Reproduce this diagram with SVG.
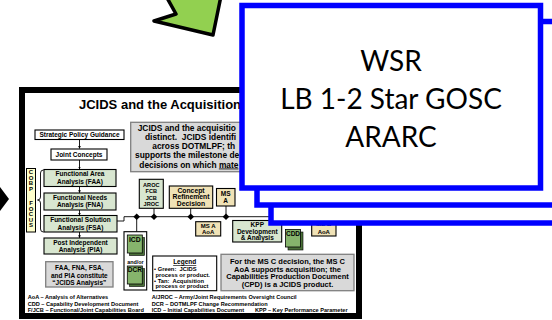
<svg xmlns="http://www.w3.org/2000/svg" width="552" height="320" viewBox="0 0 552 320">
<style>
.b{font-family:"Liberation Sans",Arial,sans-serif;font-weight:bold;fill:#000}
.m{text-anchor:middle}
.f65{font-size:6.5px}.f6{font-size:6px}.f56{font-size:5.6px}.f75{font-size:7.5px}.f84{font-size:8.4px}
.jc{fill:#d8e6d0;stroke:#000;stroke-width:1.1}
.tan{fill:#f0e2b6;stroke:#000;stroke-width:1.1}
.wb{fill:#fff;stroke:#000;stroke-width:1.1}
.gr{fill:#d9d9d9;stroke:#7f7f7f;stroke-width:1.3}
.ln{fill:none;stroke:#000;stroke-width:0.9}
.doc{fill:#86b46c;stroke:#000;stroke-width:0.8}
.sh{fill:#4a7038;stroke:#000;stroke-width:0.6}
.fr{fill:#fff;stroke:#0000ff;stroke-width:5.5}
.big{font-family:Lato,"Open Sans",sans-serif;font-size:28px;fill:#000;text-anchor:middle}
</style>
<defs>
<marker id="ah" viewBox="0 0 6 6" refX="5.5" refY="3" markerWidth="3" markerHeight="3" orient="auto"><path d="M0,0L6,3L0,6z" fill="#000"/></marker>
<path id="dm" d="M0,-3.3L3.3,0L0,3.3L-3.3,0z" fill="#000"/>
</defs>

<g id="green-arrow"><polygon points="166,-4 176,14 154,21 213,35 221,-4" fill="#92d050" stroke="#000" stroke-width="3.5" stroke-linejoin="round"/></g>
<g id="left-arrow"><polygon points="0,187 9,199 0,211" fill="#000"/></g>

<g id="slide">
<rect x="22" y="90" width="337" height="226" fill="#fff" stroke="#000" stroke-width="6"/>
<text class="b" x="79" y="108.5" font-size="13">JCIDS and the Acquisition</text>

<g id="acq-note"><rect class="gr" x="130.7" y="122.3" width="200" height="49.4" stroke="#666" stroke-width="1.5"/>
<text class="b f84" x="137.7" y="131">JCIDS and the acquisitio</text>
<text class="b f84" x="145" y="140" xml:space="preserve">distinct.  JCIDS identifi</text>
<text class="b f84" x="152.3" y="149">across DOTMLPF; th</text>
<text class="b f84" x="135" y="158">supports the milestone de</text>
<text class="b f84" x="139.3" y="167.5">decisions on which <tspan text-decoration="underline">mate</tspan></text></g>

<g id="connectors">
<line class="ln" x1="79.5" y1="139.5" x2="79.5" y2="148.5" marker-end="url(#ah)"/>
<line class="ln" x1="79.5" y1="160" x2="79.5" y2="169" marker-end="url(#ah)"/>
<line class="ln" x1="79.5" y1="186.5" x2="79.5" y2="192.8" marker-end="url(#ah)"/>
<line class="ln" x1="79.5" y1="210" x2="79.5" y2="215.3" marker-end="url(#ah)"/>
<line class="ln" x1="79.5" y1="232" x2="79.5" y2="237.8" marker-end="url(#ah)"/>
<path class="ln" d="M117,221H124V216.7H272"/>
<path class="ln" d="M136.7,216.7V231.7M154,208.3V216.7M190.7,208.3V216.7M226,206V216.7"/>
<use href="#dm" x="136.7" y="216.7"/><use href="#dm" x="154" y="216.7"/><use href="#dm" x="190.7" y="216.7"/><use href="#dm" x="226" y="216.7"/>
<path class="ln" d="M43.5,170Q40.5,170 40.5,173V197Q40.5,200 37.5,200Q40.5,200 40.5,203V229Q40.5,232 43.5,232"/>
</g>

<g id="spg"><rect class="wb" x="35" y="130" width="89" height="9.5"/><text class="b f65 m" x="79.5" y="136.9">Strategic Policy Guidance</text></g>
<g id="jc"><rect class="wb" x="51" y="149" width="56" height="11"/><text class="b f65 m" x="79" y="156.8">Joint Concepts</text></g>
<g id="faa"><rect class="jc" x="44" y="169.5" width="72" height="17"/><text class="b f65 m" x="80" y="176">Functional Area</text><text class="b f65 m" x="80" y="183.5">Analysis (FAA)</text></g>
<g id="fna"><rect class="jc" x="44" y="193" width="72" height="17"/><text class="b f65 m" x="80" y="199.5">Functional Needs</text><text class="b f65 m" x="80" y="207">Analysis (FNA)</text></g>
<g id="fsa"><rect class="jc" x="44" y="215.5" width="73" height="16.5"/><text class="b f65 m" x="80.5" y="222">Functional Solution</text><text class="b f65 m" x="80.5" y="229.5">Analysis (FSA)</text></g>
<g id="pia"><rect class="jc" x="44" y="238" width="73" height="16"/><text class="b f65 m" x="80.5" y="245">Post Independent</text><text class="b f65 m" x="80.5" y="252.3">Analysis (PIA)</text></g>
<g id="cobp"><rect x="26.5" y="168.5" width="9" height="63.5" fill="#ffffcc" stroke="#000" stroke-width="1"/>
<g class="b f6 m"><text x="31" y="174">C</text><text x="31" y="179.5">O</text><text x="31" y="185">B</text><text x="31" y="190.5">P</text><text x="31" y="205">F</text><text x="31" y="210.5">O</text><text x="31" y="216">C</text><text x="31" y="221.5">U</text><text x="31" y="227">S</text></g></g>
<g id="jcids-analysis"><rect class="gr" x="45.7" y="261.7" width="67.3" height="25.3"/><text class="b f65 m" x="79.3" y="270">FAA, FNA, FSA,</text><text class="b f65 m" x="79.3" y="277.5">and PIA constitute</text><text class="b f65 m" x="79.3" y="285">“JCIDS Analysis”</text></g>

<g id="aroc"><rect class="jc" x="139.3" y="179.3" width="24" height="29"/><text class="b f56 m" x="151.3" y="186.5">AROC</text><text class="b f56 m" x="151.3" y="193">FCB</text><text class="b f56 m" x="151.3" y="199.5">JCB</text><text class="b f56 m" x="151.3" y="206">JROC</text></g>
<g id="crd"><rect class="tan" x="169.3" y="186" width="43.4" height="22.3"/><text class="b m" font-size="6.8" x="191" y="192.8">Concept</text><text class="b m" font-size="6.8" x="191" y="199.4">Refinement</text><text class="b m" font-size="6.8" x="191" y="206">Decision</text></g>
<g id="msa"><rect class="tan" x="216.5" y="188.5" width="18.5" height="17.5"/><text class="b f65 m" x="225.7" y="195.5">MS</text><text class="b f65 m" x="225.7" y="203">A</text></g>
<g id="msa-aoa"><rect class="tan" x="195.7" y="221.7" width="25" height="14.3"/><text class="b f6 m" x="208.2" y="227.8">MS A</text><text class="b f6 m" x="208.2" y="234">AoA</text></g>
<g id="kpp"><rect class="jc" x="232.7" y="220.5" width="49" height="21.5"/><text class="b f65 m" x="257.3" y="227.3">KPP</text><text class="b f65 m" x="257.3" y="233.7">Development</text><text class="b f65 m" x="257.3" y="240">&amp; Analysis</text></g>
<g id="cdd"><rect class="sh" x="288" y="232" width="15" height="18"/><rect class="doc" x="285.5" y="229.5" width="15" height="17.5"/><text class="b f65 m" x="293" y="235.8">CDD</text></g>
<g id="msb-aoa"><rect class="tan" x="311.7" y="214" width="24.3" height="22"/><text class="b f6 m" x="323.8" y="226">MS B</text><text class="b f6 m" x="323.8" y="234">AoA</text></g>
<g id="icd-dcr"><rect class="wb" x="124" y="231.7" width="22.7" height="58.3" stroke-width="1.4"/>
<rect class="sh" x="129.5" y="237.5" width="15" height="18"/><rect class="doc" x="127.3" y="235" width="15" height="18"/><text class="b m" font-size="6.8" x="134.8" y="241.6">ICD</text>
<text class="b m" font-size="5.4" x="135.4" y="263.6">and/or</text>
<rect class="sh" x="129.5" y="268.5" width="15" height="18"/><rect class="doc" x="127.3" y="266" width="15" height="18"/><text class="b f65 m" x="134.8" y="272.3">DCR</text></g>
<g id="legend"><rect class="wb" x="152.7" y="256" width="64" height="34.7" stroke-width="1.3"/>
<text class="b f65 m" x="184.7" y="264" text-decoration="underline">Legend</text>
<text class="b" font-size="5.8" x="154" y="271" xml:space="preserve">• Green:  JCIDS</text>
<text class="b" font-size="5.8" x="155.5" y="277">process or product.</text>
<text class="b" font-size="5.8" x="154" y="282.7" xml:space="preserve">• Tan:  Acquisition</text>
<text class="b" font-size="5.8" x="155.5" y="288.3">process or product</text></g>
<g id="msc-note"><rect class="gr" x="221" y="254.3" width="133" height="36.4"/>
<text class="b f75 m" x="287.5" y="264">For the MS C decision, the MS C</text>
<text class="b f75 m" x="287.5" y="271.7">AoA supports acquisition; the</text>
<text class="b f75 m" x="287.5" y="279.4">Capabilities Production Document</text>
<text class="b f75 m" x="287.5" y="287">(CPD) is a JCIDS product.</text></g>
<g id="footer" class="b f56">
<text x="27.7" y="299.3">AoA – Analysis of Alternatives</text>
<text x="27.7" y="306.2">CDD – Capability Development Document</text>
<text x="27.7" y="312.4">F/JCB – Functional/Joint Capabilities Board</text>
<text x="151.7" y="299.3">A/JROC – Army/Joint Requirements Oversight Council</text>
<text x="151.7" y="306.2">DCR – DOTMLPF Change Recommendation</text>
<text x="151.7" y="312.4">ICD – Initial Capabilities Document</text>
<text x="255" y="312.4">KPP – Key Performance Parameter</text>
</g>
</g>

<g id="frame3"><rect class="fr" x="271" y="38" width="320" height="185"/></g>
<g id="frame2"><rect class="fr" x="257" y="21.5" width="320" height="183.5"/></g>
<g id="frame1"><rect class="fr" x="242" y="5.5" width="298.5" height="182.5"/>
<text class="big" x="391" y="70.5">WSR</text>
<text class="big" x="391" y="108.5">LB 1-2 Star GOSC</text>
<text class="big" x="391" y="146.5">ARARC</text></g>
</svg>
